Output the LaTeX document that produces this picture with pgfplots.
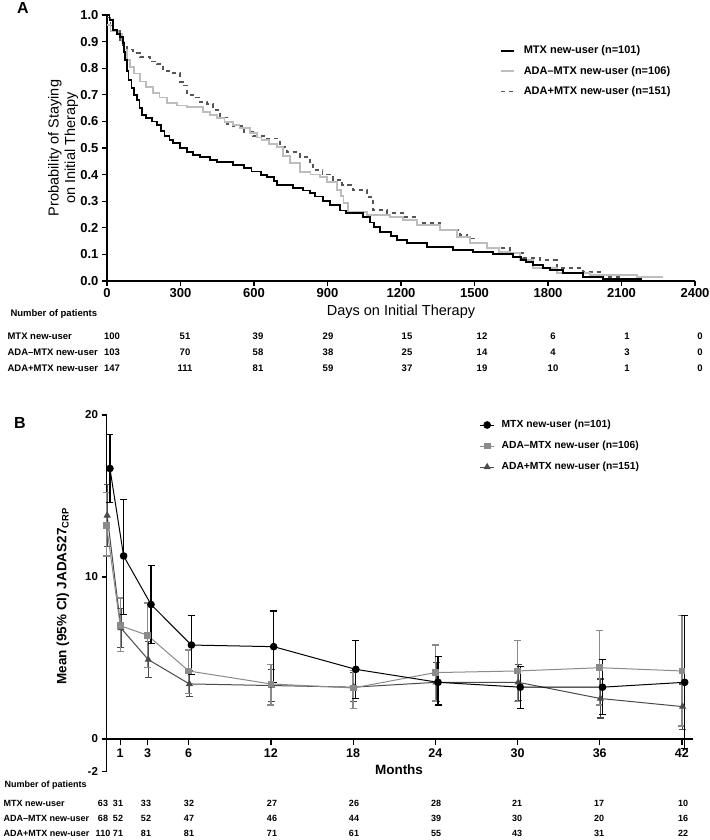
\documentclass[border=0pt]{standalone}
\usepackage{fontspec}
\setmainfont{Liberation Sans}
\usepackage{pgfplots}
\pgfplotsset{compat=1.18}
\usepackage{pgfplotstable}

\definecolor{ltgray}{HTML}{BDBDBD}
\definecolor{dkgray}{HTML}{555555}
\definecolor{mdgray}{HTML}{8A8A8A}
\definecolor{trgray}{HTML}{4A4A4A}

\newcommand\fs[1]{\fontsize{#1}{#1}\selectfont}

% ---------- Panel A: Kaplan-Meier step data (day, probability) ----------
\pgfplotstableread{
x y
0 1.0
10 0.98
25 0.945
40 0.93
53 0.917
65 0.895
70 0.86
75 0.83
82 0.79
88 0.755
100 0.725
110 0.70
122 0.68
133 0.65
143 0.625
160 0.612
184 0.60
204 0.586
220 0.565
235 0.545
255 0.53
270 0.519
298 0.50
327 0.485
350 0.475
380 0.466
420 0.455
449 0.447
514 0.436
560 0.425
590 0.412
630 0.40
653 0.39
680 0.375
694 0.361
759 0.35
800 0.34
829 0.331
850 0.318
880 0.30
910 0.286
950 0.265
975 0.255
1045 0.241
1075 0.22
1090 0.203
1114 0.184
1160 0.17
1184 0.154
1224 0.143
1306 0.128
1412 0.116
1494 0.109
1576 0.101
1657 0.09
1690 0.08
1710 0.071
1739 0.06
1780 0.05
1808 0.041
1861 0.03
1943 0.015
2024 0.008
2184 0.008
}\kmMTX

\pgfplotstableread{
x y
0 0.962
15 0.94
45 0.93
60 0.90
70 0.87
82 0.83
95 0.805
110 0.78
135 0.75
160 0.73
188 0.707
215 0.69
245 0.669
286 0.66
327 0.654
392 0.636
420 0.625
449 0.612
480 0.598
514 0.586
540 0.575
584 0.556
612 0.54
630 0.53
660 0.515
694 0.504
718 0.47
747 0.444
788 0.41
830 0.40
869 0.391
898 0.372
939 0.342
955 0.32
966 0.293
984 0.259
1061 0.248
1155 0.241
1208 0.229
1265 0.211
1359 0.192
1429 0.165
1482 0.143
1551 0.124
1600 0.11
1645 0.105
1686 0.079
1739 0.049
1837 0.03
1971 0.022
2163 0.015
2270 0.015
}\kmADAm

\pgfplotstableread{
x y
0 0.99
15 0.96
25 0.94
53 0.895
65 0.88
82 0.87
106 0.857
135 0.842
176 0.825
204 0.815
229 0.79
269 0.782
298 0.748
310 0.735
327 0.70
351 0.69
380 0.673
408 0.665
433 0.643
461 0.615
490 0.59
514 0.583
560 0.56
596 0.545
653 0.535
706 0.504
735 0.485
788 0.466
829 0.436
841 0.417
880 0.40
922 0.38
960 0.36
1004 0.342
1061 0.316
1086 0.267
1143 0.256
1208 0.241
1265 0.218
1359 0.192
1441 0.173
1470 0.16
1500 0.143
1551 0.125
1645 0.105
1698 0.086
1767 0.079
1837 0.049
1943 0.034
2024 0.015
2100 0.008
}\kmADAp

% ---------- Panel B: means with 95% CI ----------
\pgfplotstableread{
x y ep em
0.25 16.7 2.1 2.1
1.25 11.3 3.5 3.6
3.25 8.3 2.4 2.4
6.2 5.8 1.8 1.8
12.2 5.7 2.2 2.2
18.2 4.3 1.8 1.8
24.2 3.5 1.6 1.4
30.2 3.2 1.3 1.3
36.2 3.2 1.7 1.7
42.2 3.5 4.1 4.1
}\bMTX

\pgfplotstableread{
x y ep em
0 13.2 2.0 1.9
1 7.0 1.7 1.6
3 6.4 2.0 2.0
6 4.2 1.3 1.4
12 3.4 1.2 1.3
18 3.15 1.1 1.25
24 4.1 1.7 1.75
30 4.2 1.9 1.9
36 4.4 2.3 2.3
42 4.2 3.4 3.4
}\bADAm

\pgfplotstableread{
x y ep em
0.05 13.8 1.9 1.9
1.05 6.85 1.2 1.2
3.05 4.9 1.1 1.1
6.05 3.4 0.8 0.8
12.05 3.3 1.0 1.0
18.05 3.2 0.9 0.9
24.05 3.5 1.2 1.2
30.05 3.5 1.1 1.1
36.05 2.5 1.2 1.2
42.05 2.0 1.4 1.4
}\bADAp

\begin{document}
\begin{tikzpicture}
\path[use as bounding box] (0pt,0pt) rectangle (709pt,-840pt);

% ================= Panel A =================
\begin{axis}[
  at={(107pt,-281pt)}, anchor=south west,
  scale only axis, width=588pt, height=266pt,
  xmin=0, xmax=2400, ymin=0, ymax=1,
  axis x line*=bottom, axis y line*=left,
  axis line style={line width=1.3pt},
  tick style={line width=1.2pt, black},
  tick align=outside, major tick length=5pt,
  xtick={0,300,...,2400},
  xticklabels={0,300,600,900,1200,1500,1800,2100,2400},
  ytick={0,0.1,...,1.0},
  yticklabels={0.0,0.1,0.2,0.3,0.4,0.5,0.6,0.7,0.8,0.9,1.0},
  ticklabel style={font=\bfseries\fs{13}},
  xticklabel style={yshift=1pt},
  clip=false,
  reverse legend,
  legend cell align=left,
  legend style={at={(0.668,0.789)}, anchor=west, draw=none, fill=none,
    inner sep=0pt, row sep=9.5pt, font=\bfseries\fs{11},
    nodes={inner sep=0pt, text height=8.5pt, text depth=2.5pt},
    /tikz/every odd column/.append style={column sep=9pt}},
  legend image code/.code={\draw[#1] (0pt,0pt) -- (13pt,0pt);},
]
\addplot[const plot, dkgray, line width=1.6pt, dash pattern=on 4.5pt off 3.5pt] table {\kmADAp};
\addlegendentry{ADA+MTX new-user (n=151)}
\addplot[const plot, ltgray, line width=1.6pt] table {\kmADAm};
\addlegendentry{ADA\textendash MTX new-user (n=106)}
\addplot[const plot, black, line width=1.8pt] table {\kmMTX};
\addlegendentry{MTX new-user (n=101)}
\end{axis}

\node[font=\bfseries\fs{16}] at (23pt,-8pt) {A};
\node[font=\fs{14.5}, rotate=90, align=center] at (63pt,-148pt)
  {Probability of Staying\\[2pt]on Initial Therapy};
\node[font=\fs{14.5}] at (401pt,-312pt) {Days on Initial Therapy};

% number at risk A
\node[font=\bfseries\fs{9.5}, anchor=west] at (7pt,-314pt) {Number of patients};
\node[font=\bfseries\fs{9.5}, anchor=west] at (4pt,-336pt) {MTX new-user};
\node[font=\bfseries\fs{9.5}, anchor=west] at (4pt,-352pt) {ADA\textendash MTX new-user};
\node[font=\bfseries\fs{9.5}, anchor=west] at (4pt,-368pt) {ADA+MTX new-user};
\foreach \xx/\a/\b/\c in {112/100/103/147, 185/51/70/111, 258/39/58/81, 328/29/38/59,
  407/15/25/37, 482/12/14/19, 553/6/4/10, 627/1/3/1, 700/0/0/0}{
  \node[font=\bfseries\fs{9.5}] at (\xx pt,-336pt) {\a};
  \node[font=\bfseries\fs{9.5}] at (\xx pt,-352pt) {\b};
  \node[font=\bfseries\fs{9.5}] at (\xx pt,-368pt) {\c};
}

% ================= Panel B =================
\begin{axis}[
  at={(106.5pt,-771.4pt)}, anchor=south west,
  scale only axis, width=586.4pt, height=356.4pt,
  xmin=0, xmax=42.8, ymin=-2, ymax=20,
  axis y line*=left, axis x line=none,
  axis line style={line width=1.3pt},
  tick style={line width=1.2pt, black},
  tick align=outside, major tick length=5pt,
  ytick={-2,0,10,20}, yticklabels={-2,0,10,20},
  ticklabel style={font=\bfseries\fs{11.5}},
  clip=false,
  reverse legend,
  legend cell align=left,
  legend style={at={(0.636,0.913)}, anchor=west, draw=none, fill=none,
    inner sep=0pt, row sep=10.5pt, font=\bfseries\fs{10.3},
    nodes={inner sep=0pt, text height=8pt, text depth=2.5pt},
    /tikz/every odd column/.append style={column sep=7pt}},
  legend image code/.code={\draw[#1,mark repeat=2,mark phase=2] plot coordinates {(0pt,0pt) (7pt,0pt) (14pt,0pt)};},
]
\addplot[trgray, line width=1pt, mark=triangle*, mark size=3.2pt,
  mark options={solid, fill=trgray},
  error bars/.cd, y dir=both, y explicit,
  error bar style={line width=1.3pt, trgray},
  error mark options={rotate=90, line width=1.2pt, mark size=3.5pt, trgray}]
  table[x=x, y=y, y error plus=ep, y error minus=em] {\bADAp};
\addlegendentry{ADA+MTX new-user (n=151)}
\addplot[mdgray, line width=1pt, mark=square*, mark size=2.9pt,
  mark options={solid, fill=mdgray},
  error bars/.cd, y dir=both, y explicit,
  error bar style={line width=1.3pt, mdgray},
  error mark options={rotate=90, line width=1.2pt, mark size=3.5pt, mdgray}]
  table[x=x, y=y, y error plus=ep, y error minus=em] {\bADAm};
\addlegendentry{ADA\textendash MTX new-user (n=106)}
\addplot[black, line width=1pt, mark=*, mark size=3.3pt,
  mark options={solid, fill=black},
  error bars/.cd, y dir=both, y explicit,
  error bar style={line width=1.2pt, black},
  error mark options={rotate=90, line width=1.2pt, mark size=3.5pt, black}]
  table[x=x, y=y, y error plus=ep, y error minus=em] {\bMTX};
\addlegendentry{MTX new-user (n=101)}
\end{axis}

% x axis of panel B at y = 0
\begin{axis}[
  at={(106.5pt,-739pt)}, anchor=south west,
  scale only axis, width=586.4pt, height=10pt,
  xmin=0, xmax=42.8, ymin=0, ymax=1,
  axis x line*=bottom, axis y line=none,
  axis line style={line width=1.3pt},
  tick style={line width=1.2pt, black},
  tick align=outside, major tick length=6pt,
  xtick={1,3,6,12,18,24,30,36,42},
  xticklabels={1,3,6,12,18,24,30,36,42},
  ticklabel style={font=\bfseries\fs{12.5}},
]
\end{axis}

\node[font=\bfseries\fs{16}] at (20pt,-423pt) {B};
\node[font=\bfseries\fs{13.5}, rotate=90] at (63pt,-596pt)
  {Mean (95\% CI) JADAS27\textsubscript{CRP}};
\node[font=\bfseries\fs{13.5}] at (399pt,-770pt) {Months};

% number of patients B
\node[font=\bfseries\fs{9}, anchor=west] at (1pt,-785pt) {Number of patients};
\node[font=\bfseries\fs{9}, anchor=west] at (0pt,-803pt) {MTX new-user};
\node[font=\bfseries\fs{9}, anchor=west] at (0pt,-818pt) {ADA\textendash MTX new-user};
\node[font=\bfseries\fs{9}, anchor=west] at (0pt,-833pt) {ADA+MTX new-user};
\foreach \xx/\a/\b/\c in {103/63/68/110, 118/31/52/71, 146/33/52/81, 189/32/47/81,
  272/27/46/71, 354/26/44/61, 436/28/39/55, 517/21/30/43, 599/17/20/31, 683/10/16/22}{
  \node[font=\bfseries\fs{9}] at (\xx pt,-803pt) {\a};
  \node[font=\bfseries\fs{9}] at (\xx pt,-818pt) {\b};
  \node[font=\bfseries\fs{9}] at (\xx pt,-833pt) {\c};
}
\end{tikzpicture}
\end{document}
